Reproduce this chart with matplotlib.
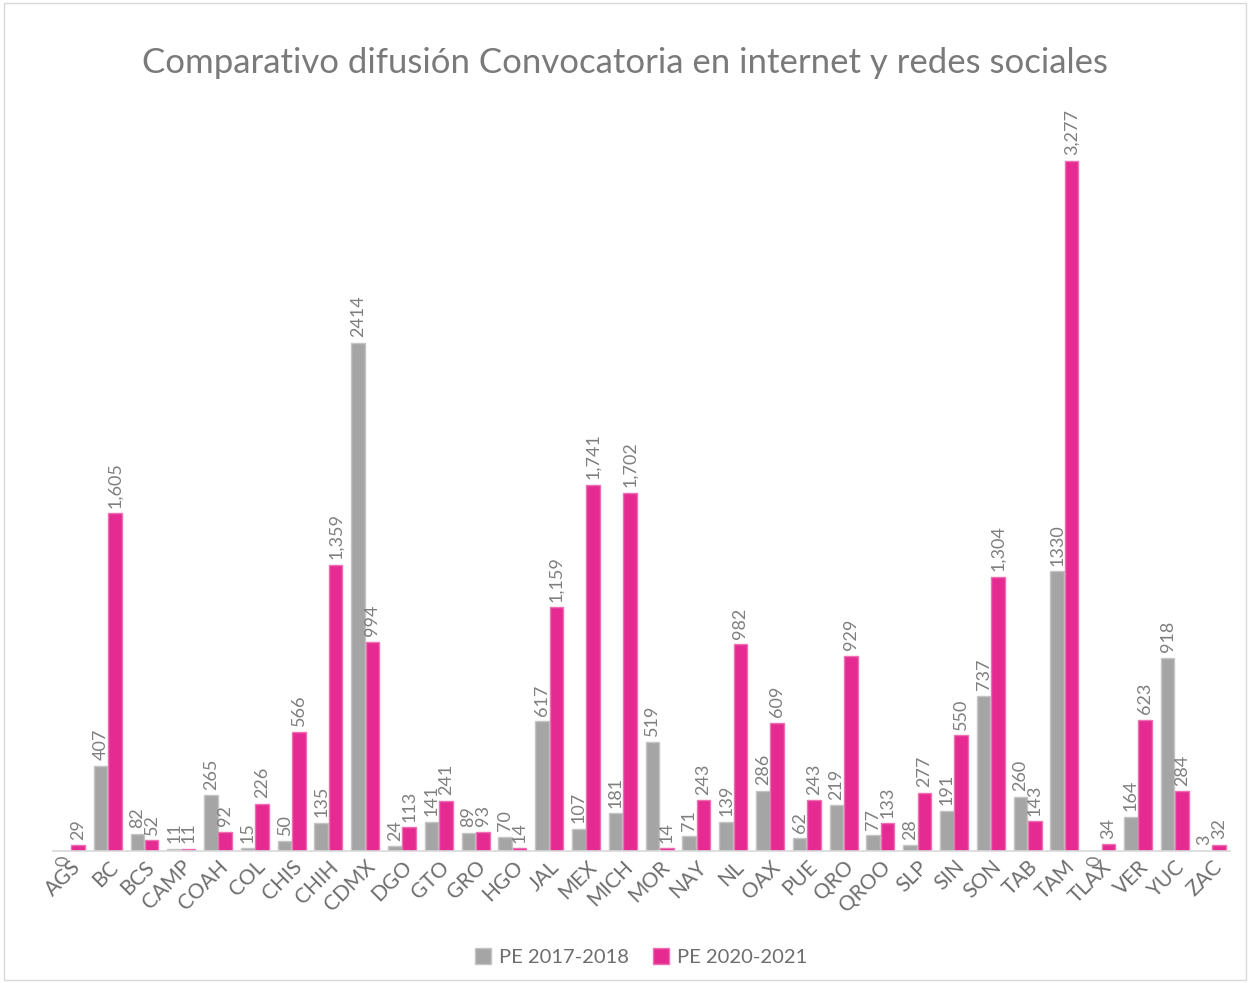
import matplotlib.pyplot as plt
import numpy as np

plt.rcParams['font.family'] = ['Lato', 'DejaVu Sans']

# datos
estados = ['AGS', 'BC', 'BCS', 'CAMP', 'COAH', 'COL', 'CHIS', 'CHIH', 'CDMX', 'DGO',
           'GTO', 'GRO', 'HGO', 'JAL', 'MEX', 'MICH', 'MOR', 'NAY', 'NL', 'OAX',
           'PUE', 'QRO', 'QROO', 'SLP', 'SIN', 'SON', 'TAB', 'TAM', 'TLAX', 'VER',
           'YUC', 'ZAC']
pe_2017_2018 = [0, 407, 82, 11, 265, 15, 50, 135, 2414, 24, 141, 89, 70, 617, 107, 181,
                519, 71, 139, 286, 62, 219, 77, 28, 191, 737, 260, 1330, 0, 164, 918, 3]
pe_2020_2021 = [29, 1605, 52, 11, 92, 226, 566, 1359, 994, 113, 241, 93, 14, 1159, 1741,
                1702, 14, 243, 982, 609, 243, 929, 133, 277, 550, 1304, 143, 3277, 34,
                623, 284, 32]

gris = '#A5A5A5'
rosa = '#E52B91'
texto = '#6E6E6E'

fig = plt.figure(figsize=(12.5, 9.83), dpi=100)
ax = fig.add_axes([0.042, 0.134, 0.942, 0.75])

x = np.arange(len(estados))
w = 0.37
b1 = ax.bar(x - w / 2 - 0.01, pe_2017_2018, w, color=gris, edgecolor='#C4C4C4',
            linewidth=1, label='PE 2017-2018')
b2 = ax.bar(x + w / 2 + 0.01, pe_2020_2021, w, color=rosa, edgecolor='#EE6FB3',
            linewidth=1, label='PE 2020-2021')

# etiquetas de datos
for rect, v in zip(b1, pe_2017_2018):
    if v == 0:
        # el cero queda encima de la etiqueta del eje, como en el original
        ax.annotate('0', (rect.get_x() + rect.get_width() / 2, 0),
                    xytext=(0, -3), textcoords='offset points', rotation=90,
                    ha='center', va='top', fontsize=13, color='#7F7F7F')
        continue
    ax.annotate(f'{v}', (rect.get_x() + rect.get_width() / 2, v),
                xytext=(0, 4), textcoords='offset points', rotation=90,
                ha='center', va='bottom', fontsize=13, color='#7F7F7F')
for rect, v in zip(b2, pe_2020_2021):
    ax.annotate(f'{v:,}', (rect.get_x() + rect.get_width() / 2, v),
                xytext=(0, 4), textcoords='offset points', rotation=90,
                ha='center', va='bottom', fontsize=13, color='#7F7F7F')

ax.set_xlim(-0.5, len(estados) - 0.5)
ax.set_ylim(0, 3500)
ax.set_yticks([])
ax.set_xticks(x)
ax.set_xticklabels(estados, rotation=45, ha='right', rotation_mode='anchor',
                   fontsize=15, color=texto)
ax.tick_params(axis='x', length=0, pad=4)
for s in ['top', 'right', 'left']:
    ax.spines[s].set_visible(False)
ax.spines['bottom'].set_color('#D9D9D9')
ax.spines['bottom'].set_linewidth(1.2)

fig.suptitle('Comparativo difusión Convocatoria en internet y redes sociales',
             y=0.952, fontsize=25, color='#7A7A7A')

ax.legend(loc='lower center', bbox_to_anchor=(0.5, -0.18), ncol=2, frameon=False,
          fontsize=14.5, labelcolor=texto, handlelength=0.8, handleheight=0.8,
          handletextpad=0.4, columnspacing=1.2)

# borde del gráfico
fig.patches.append(plt.Rectangle((0.003, 0.003), 0.994, 0.994, transform=fig.transFigure,
                                 fill=False, edgecolor='#D9D9D9', linewidth=1))

plt.savefig('out.png', dpi=100)
